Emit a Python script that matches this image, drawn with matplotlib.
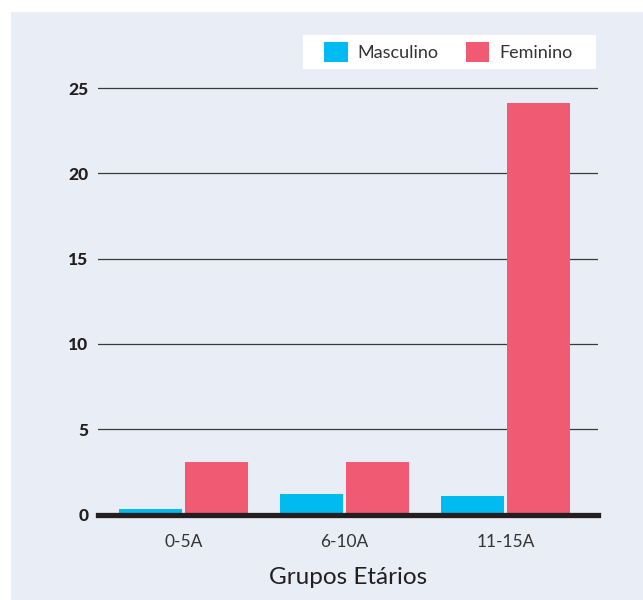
import matplotlib.pyplot as plt
import numpy as np
from matplotlib.patches import Rectangle

# data
grupos = ["0-5A", "6-10A", "11-15A"]
masculino = [0.3, 1.2, 1.1]
feminino = [3.1, 3.1, 24.1]
y_ticks = [0, 5, 10, 15, 20, 25]

azul = "#00BBF0"
rosa = "#F05A73"
fundo = "#E9EDF5"

plt.rcParams["font.family"] = ["Lato", "DejaVu Sans"]

fig = plt.figure(figsize=(6.43, 6.00), dpi=100)
fig.patch.set_facecolor("white")
# light panel behind the chart
fig.patches.append(Rectangle((11 / 643, 0), 1, 588 / 600, transform=fig.transFigure,
                             facecolor=fundo, edgecolor="none", zorder=-1))
# white box for the legend
fig.patches.append(Rectangle((303 / 643, 1 - 69 / 600), 293 / 643, 34 / 600,
                             transform=fig.transFigure, facecolor="white",
                             edgecolor="none", zorder=-0.5))

ax = fig.add_axes([98 / 643, 85.5 / 600, 500 / 643, (514.5 - 79.5) / 600])
ax.set_facecolor(fundo)

x = np.arange(len(grupos))
w = 0.391  # bar width
off = 0.205
ax.bar(x - off, masculino, w, color=azul, label="Masculino", zorder=2)
ax.bar(x + off, feminino, w, color=rosa, label="Feminino", zorder=2)

ax.set_xlim(-0.531, 2.575)
ax.set_ylim(0, 25.5)

# horizontal grid lines
for t in y_ticks[1:]:
    ax.axhline(t, color="#3a3a3a", lw=0.9, zorder=1)
ax.axhline(0, color="#231f20", lw=3.8, zorder=3, clip_on=False)

for s in ax.spines.values():
    s.set_visible(False)

ax.set_yticks(y_ticks)
ax.set_yticklabels([str(t) for t in y_ticks], fontweight="black", fontsize=12.5, color="#231f20")
ax.set_xticks(x)
ax.set_xticklabels(grupos, fontsize=12.5, color="#333333")
ax.tick_params(axis="y", length=0, pad=7)
ax.tick_params(axis="x", length=0, pad=14)

ax.set_xlabel("Grupos Etários", fontsize=17.5, color="#231f20", labelpad=12)

leg = ax.legend(loc="center", bbox_to_anchor=(448.5 / 643, 1 - 52 / 600),
                bbox_transform=fig.transFigure, ncol=2, frameon=False,
                fontsize=13, handlelength=1.3, handleheight=1.3, handletextpad=0.55,
                columnspacing=1.5, borderpad=0, borderaxespad=0)
for t in leg.get_texts():
    t.set_color("#333333")

fig.savefig("out.png", dpi=100, facecolor=fig.get_facecolor())
